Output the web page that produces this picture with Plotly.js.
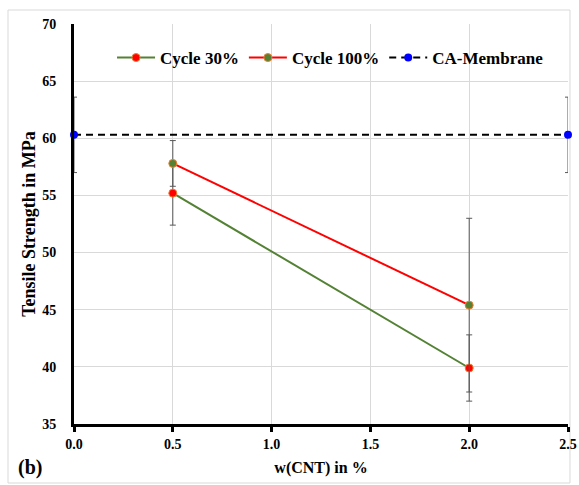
<!DOCTYPE html>
<html>
<head>
<meta charset="utf-8">
<script src="https://cdn.plot.ly/plotly-3.0.1.min.js"></script>
<style>html,body{margin:0;padding:0;background:#fff;}#chart{width:579px;height:485px;}</style>
</head>
<body>
<div id="chart"></div>
<script>
// Data
const cycle30X = [0.5, 2.0];
const cycle30Y = [55.2, 39.9];
const cycle30Err = [2.8, 2.9];

const cycle100X = [0.5, 2.0];
const cycle100Y = [57.8, 45.4];
const cycle100Err = [2.0, 7.6];

const membraneX = [0.0, 2.5];
const membraneY = [60.3, 60.3];
const membraneErr = [3.3, 3.3];

const xTicks = [0, 0.5, 1.0, 1.5, 2.0, 2.5];
const xTickLabels = ['0.0', '0.5', '1.0', '1.5', '2.0', '2.5'];
const yTicks = [35, 40, 45, 50, 55, 60, 65, 70];

const serif = 'Liberation Serif';
const errStyle = {type: 'data', visible: true, color: '#595959', thickness: 1, width: 3};

const traces = [
  {
    x: cycle30X, y: cycle30Y, name: '<b>Cycle 30%</b>', type: 'scatter', mode: 'lines+markers',
    line: {color: '#548235', width: 2},
    marker: {color: '#ff0000', size: 8, line: {color: '#ed7d31', width: 1}},
    error_y: Object.assign({array: cycle30Err}, errStyle),
    cliponaxis: false
  },
  {
    x: cycle100X, y: cycle100Y, name: '<b>Cycle 100%</b>', type: 'scatter', mode: 'lines+markers',
    line: {color: '#ff0000', width: 2},
    marker: {color: '#548235', size: 8, line: {color: '#ed7d31', width: 1}},
    error_y: Object.assign({array: cycle100Err}, errStyle),
    cliponaxis: false
  },
  {
    x: membraneX, y: membraneY, name: '<b>CA-Membrane</b>', type: 'scatter', mode: 'lines+markers',
    line: {color: '#000000', width: 2, dash: '7px,5px'},
    marker: {color: '#0000ff', size: 8},
    error_y: Object.assign({array: membraneErr}, errStyle),
    cliponaxis: false
  }
];

const layout = {
  width: 579, height: 485,
  margin: {l: 74, r: 11, t: 24, b: 61},
  paper_bgcolor: '#ffffff', plot_bgcolor: '#ffffff',
  font: {family: serif, size: 13, color: '#000'},
  showlegend: true,
  legend: {
    orientation: 'h', x: 0.077, y: 0.915, xanchor: 'left', yanchor: 'middle',
    font: {family: serif, size: 17, color: '#000'},
    bgcolor: 'rgba(255,255,255,0)', itemwidth: 38, tracegroupgap: 0
  },
  xaxis: {
    range: [0, 2.5], tickvals: xTicks, ticktext: xTickLabels.map(t => '<b>' + t + '</b>'),
    showgrid: true, gridcolor: '#d9d9d9', gridwidth: 1,
    showline: true, linecolor: '#000', linewidth: 3,
    ticks: 'outside', ticklen: 5, tickwidth: 3, tickcolor: '#000',
    tickfont: {family: serif, size: 14},
    zeroline: false,
    title: {text: '<b>w(CNT) in %</b>', font: {family: serif, size: 16}, standoff: 12}
  },
  yaxis: {
    range: [35, 70], tickvals: yTicks, ticktext: yTicks.map(t => '<b>' + t + '</b>'),
    showgrid: true, gridcolor: '#d9d9d9', gridwidth: 1,
    showline: true, linecolor: '#000', linewidth: 3,
    ticks: '', ticklabelstandoff: 12,
    tickfont: {family: serif, size: 14},
    zeroline: false,
    title: {text: '<b>Tensile Strength in MPa</b>', font: {family: serif, size: 18}, standoff: 2}
  },
  shapes: [{
    type: 'rect', xref: 'paper', yref: 'paper',
    x0: -0.1336, x1: 1.004, y0: -0.1475, y1: 1.035,
    line: {color: '#d9d9d9', width: 1}, fillcolor: 'rgba(0,0,0,0)', layer: 'below'
  }],
  annotations: [{
    text: '<b>(b)</b>', xref: 'paper', yref: 'paper', x: -0.089, y: -0.1075,
    xanchor: 'center', yanchor: 'middle', showarrow: false,
    font: {family: serif, size: 20, color: '#000'}
  }]
};

Plotly.newPlot('chart', traces, layout, {displayModeBar: false, staticPlot: true});
</script>
</body>
</html>
